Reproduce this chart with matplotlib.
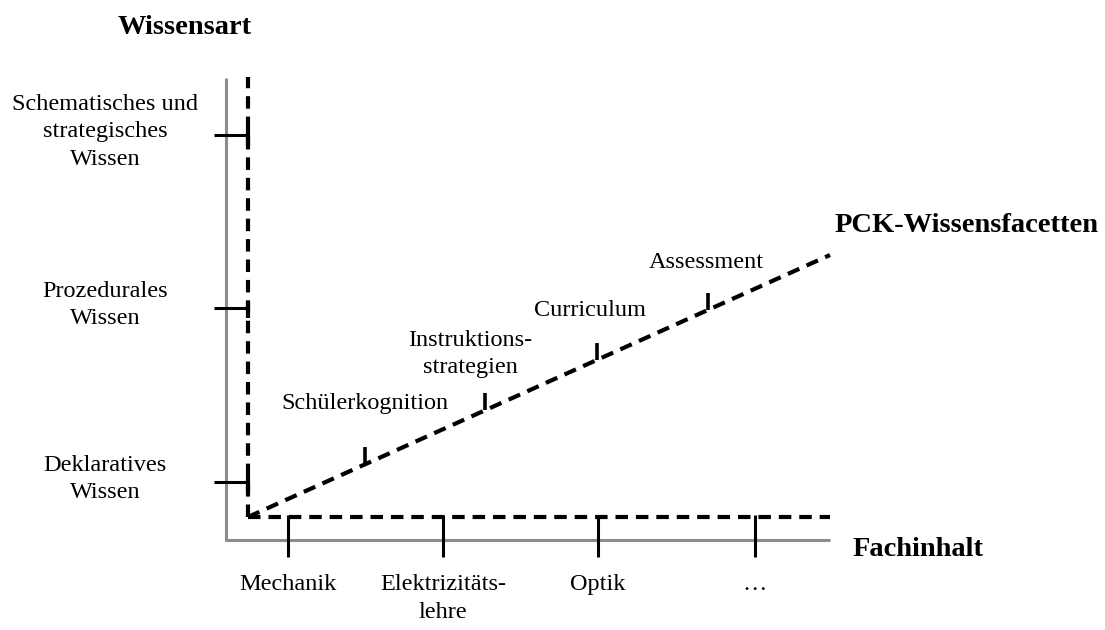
import matplotlib.pyplot as plt
import numpy as np

# ---- data ----
wissensart = ["Deklaratives\nWissen", "Prozedurales\nWissen",
              "Schematisches und\nstrategisches\nWissen"]
fachinhalt = ["Mechanik", "Elektrizitäts-\nlehre", "Optik", "\u2026"]
facetten = ["Schülerkognition", "Instruktions-\nstrategien", "Curriculum", "Assessment"]
axis_titles = ["Wissensart", "Fachinhalt", "PCK-Wissensfacetten"]

plt.rcParams['font.family'] = ['Liberation Serif', 'DejaVu Serif']

fig = plt.figure(figsize=(11.05, 6.3), dpi=100)
ax = fig.add_axes([0, 0, 1, 1])
ax.set_xlim(0, 1105)
ax.set_ylim(630, 0)
ax.axis('off')

# origin and geometry (pixel layout)
ox, oy = 248, 517
gray = '#8c8c8c'
dash = (3.0, 1.9)
lw = 3.0
fs = 17.5
ls = 1.43

# gray frame
ax.plot([226, 226], [78, 541], color=gray, lw=2.2, solid_capstyle='butt')
ax.plot([225, 830], [540, 540], color=gray, lw=2.2, solid_capstyle='butt')

# dashed axes
ax.plot([ox, ox], [oy, 77], color='black', lw=lw, dashes=dash)
ax.plot([ox, 830], [oy, oy], color='black', lw=lw, dashes=dash)
ax.plot([ox, 830], [oy, 255], color='black', lw=lw, dashes=dash)

# y ticks
ypos = [482, 308, 135]
for y, lab in zip(ypos, wissensart):
    ax.plot([214, ox + 1], [y, y], color='black', lw=2.2, solid_capstyle='butt')
    ax.plot([ox, ox], [y - 6, y + 10], color='black', lw=lw, solid_capstyle='butt')
    ax.text(105, y - 3, lab, ha='center', va='center', fontsize=fs, linespacing=ls)

# x ticks
xpos = [288, 443, 598, 755]
for x, lab in zip(xpos, fachinhalt):
    ax.plot([x, x], [oy - 2, 557], color='black', lw=2.2, solid_capstyle='butt')
    ax.text(x, 574, lab, ha='center', va='top', fontsize=fs, linespacing=ls)

# diagonal ticks
slope = (255 - oy) / (830 - ox)
dpos = [365, 485, 597, 708]
label_pos = [(365, 404), (470, 354), (590, 310), (706, 263)]
for x, lab, (lx, ly) in zip(dpos, facetten, label_pos):
    yl = oy + slope * (x - ox)
    ax.plot([x, x], [yl, yl - 17], color='black', lw=2.6, solid_capstyle='butt')
    ax.text(lx, ly, lab, ha='center', va='center', fontsize=fs, linespacing=ls)

# titles
tfs = 20.5
ax.text(185, 28, axis_titles[0], ha='center', va='center', fontsize=tfs, fontweight='bold')
ax.text(853, 550, axis_titles[1], ha='left', va='center', fontsize=tfs, fontweight='bold')
ax.text(835, 225, axis_titles[2], ha='left', va='center', fontsize=tfs, fontweight='bold')

fig.savefig('out.png', dpi=100)
